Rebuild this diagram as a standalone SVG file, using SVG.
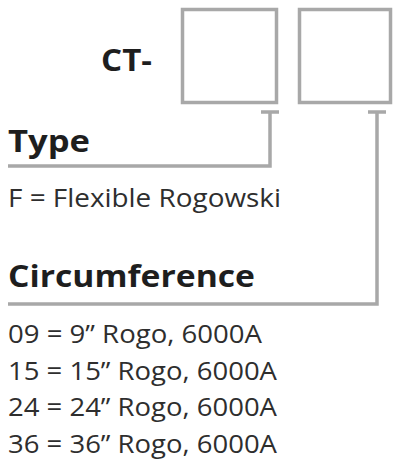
<svg xmlns="http://www.w3.org/2000/svg" width="394" height="466" viewBox="0 0 394 466">
<style>
.box{fill:#fff;stroke:#a8a8a8;stroke-width:3.5}
.conn{fill:none;stroke:#a8a8a8;stroke-width:3.5}
.h{font-family:"Open Sans","Noto Sans",sans-serif;font-weight:700;font-size:31px;fill:#1e1e1e}
.t{font-family:"Open Sans","Noto Sans",sans-serif;font-weight:400;font-size:26px;fill:#2e2e2e}
</style>
<rect width="394" height="466" fill="#fff"/>
<g id="code">
<text class="h" x="101" y="71" font-size="35" textLength="51" lengthAdjust="spacingAndGlyphs">CT-</text>
</g>
<g id="box-type"><rect class="box" x="182.5" y="9.5" width="94" height="93"/></g>
<g id="box-circ"><rect class="box" x="299.5" y="9.5" width="91" height="93"/></g>
<g id="connectors">
<path class="conn" d="M8,166 H270 V112 M261,112 H279"/>
<path class="conn" d="M8,304 H377 V112 M368,112 H386"/>
</g>
<g id="type">
<text class="h" x="8" y="152" textLength="82" lengthAdjust="spacingAndGlyphs">Type</text>
<text class="t" x="8" y="207" font-size="27" textLength="273" lengthAdjust="spacingAndGlyphs">F = Flexible Rogowski</text>
</g>
<g id="circumference">
<text class="h" x="8" y="287" textLength="247" lengthAdjust="spacingAndGlyphs">Circumference</text>
<text class="t" x="8" y="343" textLength="254" lengthAdjust="spacingAndGlyphs">09 = 9” Rogo, 6000A</text>
<text class="t" x="8" y="380" textLength="269" lengthAdjust="spacingAndGlyphs">15 = 15” Rogo, 6000A</text>
<text class="t" x="8" y="416" textLength="269" lengthAdjust="spacingAndGlyphs">24 = 24” Rogo, 6000A</text>
<text class="t" x="8" y="453" textLength="269" lengthAdjust="spacingAndGlyphs">36 = 36” Rogo, 6000A</text>
</g>
</svg>
